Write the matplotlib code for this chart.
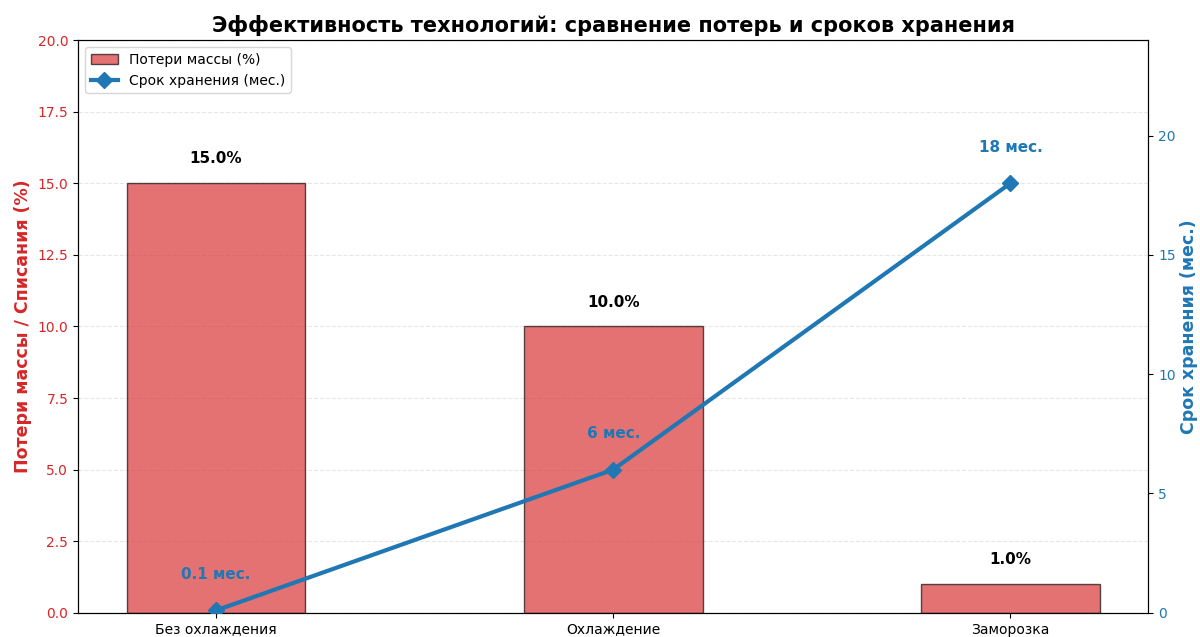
import matplotlib
matplotlib.use('Agg')
import matplotlib.pyplot as plt
import numpy as np

categories = ['Без охлаждения', 'Охлаждение', 'Заморозка']
loss_pct = [15.0, 10.0, 1.0]
shelf_months = [0.1, 6, 18]
shelf_labels = ['0.1 мес.', '6 мес.', '18 мес.']

red = '#d62728'
blue = '#1f77b4'

fig, ax1 = plt.subplots(figsize=(12, 6.37), dpi=100)
x = np.arange(len(categories))

ax1.bar(x, loss_pct, width=0.45, color=red, alpha=0.65, edgecolor='black',
        linewidth=1, label='Потери массы (%)', zorder=2)
for xi, v in zip(x, loss_pct):
    ax1.text(xi, v + 0.85, '{:.1f}%'.format(v), ha='center', va='center',
             fontsize=11, fontweight='bold')

ax1.set_ylim(0, 20)
ax1.set_ylabel('Потери массы / Списания (%)', color=red, fontsize=12.5, fontweight='bold')
ax1.tick_params(axis='y', labelcolor=red, labelsize=10)
ax1.tick_params(axis='x', labelsize=10)
ax1.set_xticks(x)
ax1.set_xticklabels(categories)
ax1.grid(axis='y', linestyle='--', alpha=0.3, zorder=0)

ax2 = ax1.twinx()
ax2.plot(x, shelf_months, color=blue, marker='D', markersize=8, linewidth=3,
         label='Срок хранения (мес.)', zorder=3)
for xi, v, lab in zip(x, shelf_months, shelf_labels):
    ax2.text(xi, v + 1.5, lab, ha='center', va='center', color=blue,
             fontsize=11, fontweight='bold')
ax2.set_ylim(0, 24)
ax2.set_ylabel('Срок хранения (мес.)', color=blue, fontsize=12.5, fontweight='bold',
               labelpad=3)
ax2.tick_params(axis='y', labelcolor=blue, labelsize=10)

h1, l1 = ax1.get_legend_handles_labels()
h2, l2 = ax2.get_legend_handles_labels()
ax1.legend(h1 + h2, l1 + l2, loc='upper left', fontsize=10)

ax1.set_title('Эффективность технологий: сравнение потерь и сроков хранения',
              fontsize=15, fontweight='bold')

fig.subplots_adjust(left=0.065, right=0.957, top=0.937, bottom=0.038)
fig.savefig('out.png', dpi=100)
